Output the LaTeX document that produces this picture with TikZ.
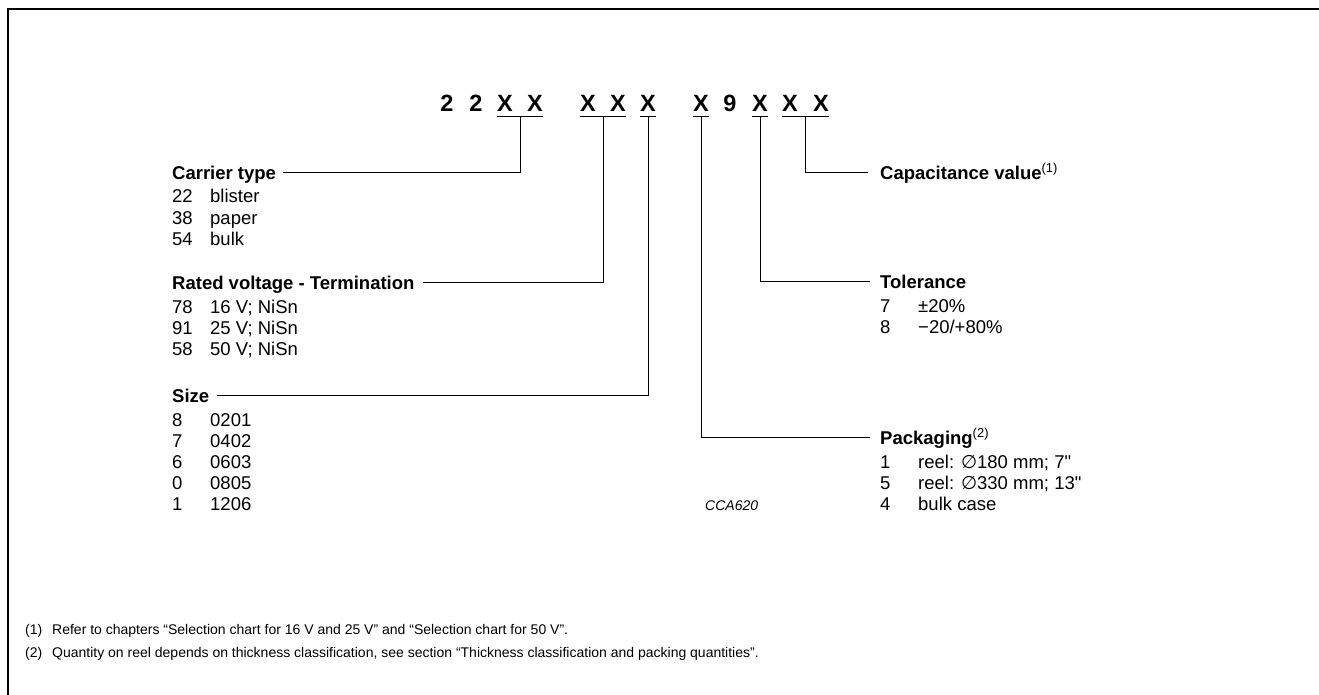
\documentclass[tikz,border=0pt]{standalone}
\usepackage{fontspec}
\setmainfont{Liberation Sans}
\newfontfamily\symfont{DejaVu Sans}
\newcommand\inchmark{\XeTeXglyph\XeTeXglyphindex "quotedbl" \relax}
\usetikzlibrary{calc}

\tikzset{
  code/.style={font=\fontsize{23.5}{28}\selectfont\bfseries, inner xsep=0pt, inner ysep=5pt, anchor=base},
  head/.style={font=\fontsize{18.5}{21}\selectfont\bfseries, inner sep=0pt, text height=13pt, text depth=0pt, anchor=base west},
  item/.style={font=\fontsize{18.5}{21}\selectfont, inner sep=0pt, anchor=base west},
  note/.style={font=\fontsize{14}{16}\selectfont, inner sep=0pt, anchor=base west},
  lead/.style={line width=0.9pt},
  frame/.style={line width=2pt}
}

\begin{document}
\begin{tikzpicture}[x=1pt,y=-1pt]
\useasboundingbox (0,0) rectangle (1319,695);
\draw[frame] (8,696) -- (8,9) -- (1320,9);

\foreach \c/\x [count=\i] in {2/447,2/476,X/505,X/535,X/588,X/618,X/648,X/701,9/730,X/760,X/790,X/821}
  \node[code] (c\i) at (\x,111.5) {\c};

\draw[lead] (c3.south west) -- (c4.south east);
\draw[lead] (c5.south west) -- (c6.south east);
\draw[lead] (c7.south west) -- (c7.south east);
\draw[lead] (c8.south west) -- (c8.south east);
\draw[lead] (c10.south west) -- (c10.south east);
\draw[lead] (c11.south west) -- (c12.south east);

\coordinate (u1) at ($(c3.south)!.5!(c4.south)$);
\coordinate (u2) at ($(c5.south)!.5!(c6.south)$);
\coordinate (u3) at (c7.south);
\coordinate (u4) at (c8.south);
\coordinate (u5) at (c10.south);
\coordinate (u6) at ($(c11.south)!.5!(c12.south)$);

\node[head] (carrier) at (172,179) {Carrier type};
\node[head] (rated) at (172,289) {Rated voltage - Termination};
\node[head] (size) at (172,402) {Size};
\node[head] (capval) at (880,179) {Capacitance value{\mdseries\textsuperscript{(1)}}};
\node[head] (tol) at (880,288) {Tolerance};
\node[head] (pack) at (880,444) {Packaging{\mdseries\textsuperscript{(2)}}};

\draw[lead] ([xshift=7pt]carrier.east) -| (u1);
\draw[lead] ([xshift=8pt]rated.east) -| (u2);
\draw[lead] ([xshift=8pt]size.east) -| (u3);
\draw[lead] (u6) |- ([xshift=-12pt]capval.west);
\draw[lead] (u5) |- ([xshift=-10pt]tol.west);
\draw[lead] (u4) |- ([xshift=-10pt]pack.west);

\foreach \n/\t [count=\i] in {22/blister,38/paper,54/bulk} {
  \node[item] (carrier-n\i) at (172,182+21*\i) {\n};
  \node[item] (carrier-t\i) at (210,182+21*\i) {\t};
}
\foreach \n/\t [count=\i] in {78/16 V; NiSn,91/25 V; NiSn,58/50 V; NiSn} {
  \node[item] (rated-n\i) at (172,292+21*\i) {\n};
  \node[item] (rated-t\i) at (210,292+21*\i) {\t};
}
\foreach \n/\t [count=\i] in {8/0201,7/0402,6/0603,0/0805,1/1206} {
  \node[item] (size-n\i) at (172,405+21*\i) {\n};
  \node[item] (size-t\i) at (210,405+21*\i) {\t};
}
\foreach \n/\t [count=\i] in {7/{±20\%},8/{−20/+80\%}} {
  \node[item] (tol-n\i) at (880,291+21*\i) {\n};
  \node[item] (tol-t\i) at (918,291+21*\i) {\t};
}
\foreach \n/\t [count=\i] in {1/{reel: {\symfont ∅}180 mm; 7\inchmark},5/{reel: {\symfont ∅}330 mm; 13\inchmark},4/{bulk case}} {
  \node[item] (pack-n\i) at (880,447+21*\i) {\n};
  \node[item] (pack-t\i) at (918,447+21*\i) {\t};
}

\node[note, font=\fontsize{14}{16}\selectfont\itshape] (drawno) at (705,510) {CCA620};

\node[note] (fn1-n) at (25,634) {(1)};
\node[note] (fn1) at (52,634) {Refer to chapters “Selection chart for 16 V and 25 V” and “Selection chart for 50 V”.};
\node[note] (fn2-n) at (25,657) {(2)};
\node[note] (fn2) at (52,657) {Quantity on reel depends on thickness classification, see section “Thickness classification and packing quantities”.};
\end{tikzpicture}
\end{document}
